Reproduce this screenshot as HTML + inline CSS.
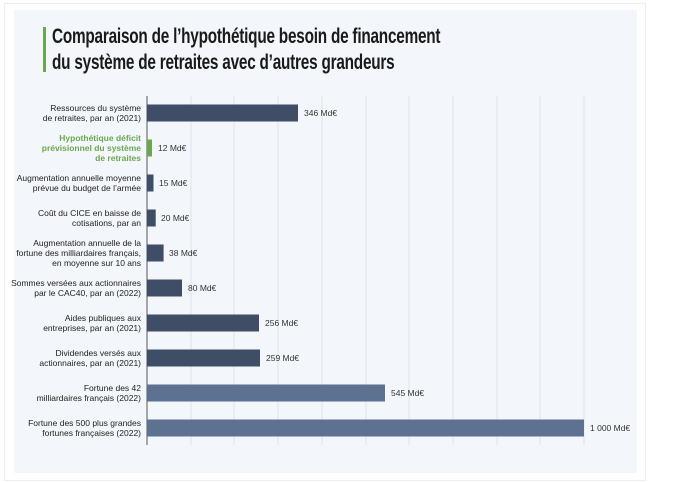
<!DOCTYPE html>
<html><head><meta charset="utf-8"><style>
body{margin:0;width:684px;height:482px;background:#fff;position:relative;overflow:hidden;font-family:"Liberation Sans",sans-serif}
.panel{position:absolute;left:14px;top:10px;width:623px;height:463px;background:#f3f6fa}
.outer{position:absolute;left:4px;top:3px;width:640px;height:476px;border:1px solid #eceef1}
.title{position:absolute;left:52px;top:24px;font-weight:bold;font-size:21px;line-height:26px;color:#1a1a1a;transform:scaleX(0.73);transform-origin:left top;white-space:nowrap;letter-spacing:-0.3px}
.gbar{position:absolute;left:43px;top:27px;width:3px;height:45px;background:#6aa84f}
</style></head><body>
<div class="outer"></div>
<div class="panel"></div>
<div class="gbar"></div>
<div class="title">Comparaison de l’hypothétique besoin de financement<br>du système de retraites avec d’autres grandeurs</div>
<svg width="684" height="482" style="position:absolute;left:0;top:0" font-family="Liberation Sans, sans-serif">
<g stroke="#dfe3e9" stroke-width="1">
<line x1="191" y1="96" x2="191" y2="445"/><line x1="234" y1="96" x2="234" y2="445"/><line x1="278" y1="96" x2="278" y2="445"/><line x1="322" y1="96" x2="322" y2="445"/><line x1="366" y1="96" x2="366" y2="445"/><line x1="409" y1="96" x2="409" y2="445"/><line x1="453" y1="96" x2="453" y2="445"/><line x1="497" y1="96" x2="497" y2="445"/><line x1="540" y1="96" x2="540" y2="445"/><line x1="584" y1="96" x2="584" y2="445"/>
</g>
<line x1="147" y1="96" x2="147" y2="445" stroke="#555" stroke-width="1"/>
<g>
<rect x="147" y="104.5" width="151" height="17" fill="#3f4d66"/>
<rect x="147" y="139.5" width="5" height="17" fill="#6aa84f"/>
<rect x="147" y="174.5" width="6.5" height="17" fill="#3f4d66"/>
<rect x="147" y="209.5" width="8.7" height="17" fill="#3f4d66"/>
<rect x="147" y="244.5" width="16.6" height="17" fill="#3f4d66"/>
<rect x="147" y="279.5" width="35" height="17" fill="#3f4d66"/>
<rect x="147" y="314.5" width="112" height="17" fill="#3f4d66"/>
<rect x="147" y="349.5" width="113" height="17" fill="#3f4d66"/>
<rect x="147" y="384.5" width="238" height="17" fill="#5d7190"/>
<rect x="147" y="419.5" width="437" height="17" fill="#5d7190"/>
</g>
<g font-size="8.5" fill="#333">
<text x="304" y="116">346 Md€</text>
<text x="158" y="151">12 Md€</text>
<text x="159" y="186">15 Md€</text>
<text x="161" y="221">20 Md€</text>
<text x="169" y="256">38 Md€</text>
<text x="188" y="291">80 Md€</text>
<text x="265" y="326">256 Md€</text>
<text x="266" y="361">259 Md€</text>
<text x="391" y="396">545 Md€</text>
<text x="590" y="431">1 000 Md€</text>
</g>
<g font-size="8.5" fill="#222" text-anchor="end">
<text x="141" y="111">Ressources du système</text><text x="141" y="121">de retraites, par an (2021)</text>
<g fill="#6aa84f" font-weight="bold"><text x="141" y="141">Hypothétique déficit</text><text x="141" y="151">prévisionnel du système</text><text x="141" y="161">de retraites</text></g>
<text x="141" y="181">Augmentation annuelle moyenne</text><text x="141" y="191">prévue du budget de l’armée</text>
<text x="141" y="216">Coût du CICE en baisse de</text><text x="141" y="226">cotisations, par an</text>
<text x="141" y="246">Augmentation annuelle de la</text><text x="141" y="256">fortune des milliardaires français,</text><text x="141" y="266">en moyenne sur 10 ans</text>
<text x="141" y="286">Sommes versées aux actionnaires</text><text x="141" y="296">par le CAC40, par an (2022)</text>
<text x="141" y="321">Aides publiques aux</text><text x="141" y="331">entreprises, par an (2021)</text>
<text x="141" y="356">Dividendes versés aux</text><text x="141" y="366">actionnaires, par an (2021)</text>
<text x="141" y="391">Fortune des 42</text><text x="141" y="401">milliardaires français (2022)</text>
<text x="141" y="426">Fortune des 500 plus grandes</text><text x="141" y="436">fortunes françaises (2022)</text>
</g>
</svg>
</body></html>
